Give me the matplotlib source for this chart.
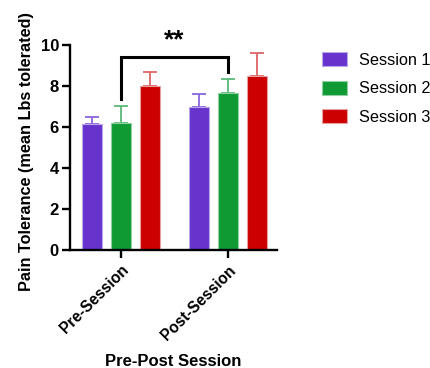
import matplotlib
matplotlib.use("Agg")
import matplotlib.pyplot as plt
import numpy as np

plt.rcParams['font.family'] = ['Liberation Sans', 'DejaVu Sans']

groups = ["Pre-Session", "Post-Session"]
series = ["Session 1", "Session 2", "Session 3"]
means = {
    "Session 1": [6.15, 6.96],
    "Session 2": [6.18, 7.67],
    "Session 3": [8.0, 8.49],
}
errors = {
    "Session 1": [0.32, 0.64],
    "Session 2": [0.82, 0.67],
    "Session 3": [0.70, 1.11],
}
yticks = [0, 2, 4, 6, 8, 10]
colors = {"Session 1": "#6633CC", "Session 2": "#0F9A34", "Session 3": "#CC0000"}
err_colors = {"Session 1": "#8A66DD", "Session 2": "#5CBB78", "Session 3": "#DD6666"}
edge_colors = {"Session 1": "#B9A6E8", "Session 2": "#8FD0A3", "Session 3": "#E8A0A0"}
bracket_ends = [7.35, 8.7]
bracket_top = 9.43
sig_label = "**"

fig = plt.figure(figsize=(4.3, 3.68), dpi=100)
ax = fig.add_axes([0.1628, 0.3207, 0.644 - 0.1628, 0.8777 - 0.3207])

x = np.arange(len(groups))
step = 0.271
width = 0.187
for i, s in enumerate(series):
    xs = x + (i - 1) * step
    ax.bar(xs, means[s], width=width, color=colors[s], edgecolor=edge_colors[s],
           linewidth=0.8, label=s, zorder=2)
    ax.errorbar(xs, means[s], yerr=[np.zeros(len(groups)), errors[s]], fmt='none',
                ecolor=err_colors[s], elinewidth=1.3, capsize=5, capthick=1.3, zorder=1)

# significance bracket between green bars
xb = x.astype(float)
ax.plot([xb[0], xb[0], xb[1], xb[1]],
        [bracket_ends[0], bracket_top, bracket_top, bracket_ends[1]],
        color='black', linewidth=2.2, solid_joinstyle='miter', clip_on=False, zorder=3)
ax.text((xb[0] + xb[1]) / 2, bracket_top + 0.2, sig_label, ha='center', va='bottom',
        fontsize=19, fontweight='bold')

ax.set_xlim(-0.477, 1.458)
ax.set_ylim(0, 10)
ax.set_yticks(yticks, [str(t) for t in yticks], fontsize=12, fontweight='bold')
ax.set_xticks(x, groups, rotation=45, ha='right', rotation_mode='anchor',
              fontsize=11.2, fontweight='bold')
ax.spines['top'].set_visible(False)
ax.spines['right'].set_visible(False)
ax.spines['left'].set_linewidth(1.7)
ax.spines['bottom'].set_linewidth(1.7)
ax.tick_params(axis='both', width=1.7, length=6, direction='out')
ax.tick_params(axis='y', pad=2)
ax.tick_params(axis='x', pad=3)

ax.set_ylabel("Pain Tolerance (mean Lbs tolerated)", fontsize=11.7, fontweight='bold')
ax.yaxis.set_label_coords(-0.175, 0.48)
ax.set_xlabel("Pre-Post Session", fontsize=12, fontweight='bold', labelpad=8)

ax.legend(loc='upper left', bbox_to_anchor=(0.749, 0.858), bbox_transform=fig.transFigure,
          frameon=False, fontsize=11.7, borderpad=0, borderaxespad=0,
          handlelength=1.55, handleheight=0.95, labelspacing=0.8, handletextpad=0.7)

fig.savefig("out.png", dpi=100)
